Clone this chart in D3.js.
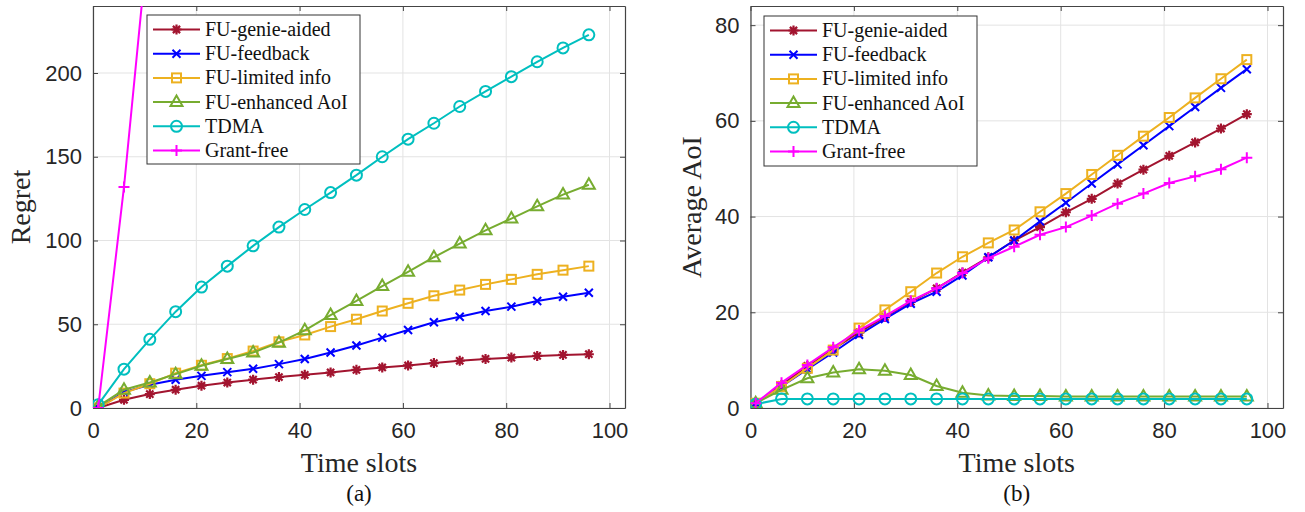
<!DOCTYPE html>
<html><head><meta charset="utf-8">
<script src="https://cdn.jsdelivr.net/npm/d3@7"></script>
<style>body{margin:0;background:#fff}svg{display:block}</style>
</head><body>
<svg id="chart" width="1305" height="512"></svg>
<script>
const slots = [1,6,11,16,21,26,31,36,41,46,51,56,61,66,71,76,81,86,91,96];
const seriesNames = ["FU-genie-aided","FU-feedback","FU-limited info","FU-enhanced AoI","TDMA","Grant-free"];
const seriesColors = ["#A2142F","#0000FF","#EDB120","#77AC30","#00BFBF","#FF00FF"];
const seriesMarkers = ["*","x","s","^","o","+"];

// (a) Regret
const regretGenie    = [0,4.9,8.3,10.9,13.3,15.2,16.9,18.5,19.8,21.2,22.8,24.2,25.4,26.8,28.2,29.3,30.1,31.1,31.7,32.1];
const regretFeedback = [0,9.5,13.9,16.9,19.2,21.4,23.4,26.2,29.3,33.1,37.3,42,46.6,51.2,54.5,57.9,60.5,63.9,66.4,68.8];
const regretLimited  = [0,8.9,14.5,20.8,25.5,29.5,34,39.5,43.6,48.6,53,57.9,62.5,67,70.4,73.8,76.8,79.8,82.3,84.7];
const regretEnhanced = [1,10.9,15.2,20.2,25.2,29.2,33.1,39,46.4,55.5,63.9,72.8,81.3,90,98.2,106.1,113.1,120.4,127.4,133.3];
const regretTDMA     = [2,23.2,41,57.5,72.2,84.7,96.8,108,118.5,128.6,139,150,160.5,170,180,189,197.8,206.7,215,222.8];
const regretGrant    = [0,132,290,445,600,752,905,1058,1210,1362,1515,1667,1820,1972,2125,2277,2430,2582,2735,2887];

// (b) Average AoI
const aoiGenie    = [1,4.8,8.8,12.3,15.8,19,22.2,25,28.3,31.5,35,37.8,40.9,43.7,46.9,49.8,52.7,55.5,58.4,61.4];
const aoiFeedback = [1,4.5,8.1,11.6,15.3,18.6,21.8,24.3,27.7,31.5,35,39,42.9,46.9,50.9,54.9,58.9,62.9,66.9,70.8];
const aoiLimited  = [1,4.5,8.3,12.1,16.7,20.5,24.3,28.2,31.6,34.5,37.2,41,44.8,48.8,52.8,56.8,60.7,64.8,68.8,72.8];
const aoiEnhanced = [1,3.8,6.2,7.4,8.1,7.8,6.9,4.6,3.2,2.6,2.5,2.5,2.4,2.4,2.4,2.4,2.4,2.4,2.4,2.4];
const aoiTDMA     = [0.8,1.9,1.9,1.9,1.9,1.9,1.9,1.9,1.9,1.9,1.9,1.9,1.9,1.9,1.9,1.9,1.9,1.9,1.9,1.9];
const aoiGrant    = [1,5.3,9,12.7,16.2,19.2,22.4,25,28.2,31.3,33.7,36.2,37.8,40.2,42.7,44.8,47,48.4,49.9,52.3];

const xTicks = [0,20,40,60,80,100];
const regretTicks = [0,50,100,150,200];
const aoiTicks = [0,20,40,60,80];

const svg = d3.select("#chart");
svg.append("rect").attr("width",1305).attr("height",512).attr("fill","#fff");

function marker(g, type, x, y, color) {
  const s = g.append("g").attr("transform",`translate(${x},${y})`)
    .attr("fill","none").attr("stroke",color).attr("stroke-width",2);
  if (type==="o") s.append("circle").attr("r",5.5);
  else if (type==="s") s.append("rect").attr("x",-4.5).attr("y",-4.5).attr("width",9).attr("height",9);
  else if (type==="^") s.append("path").attr("d","M0,-6.5L6,4L-6,4Z");
  else if (type==="+") s.append("path").attr("d","M-5.5,0H5.5M0,-5.5V5.5");
  else if (type==="x") s.append("path").attr("d","M-4,-4L4,4M-4,4L4,-4");
  else if (type==="*") s.append("path").attr("d","M-5,0H5M0,-5V5M-3.6,-3.6L3.6,3.6M-3.6,3.6L3.6,-3.6").attr("stroke-width",2.2);
}

function panel(id, x0, x1, yDomain, yTicks, data, yLabel, yLabelX, caption, legendBox) {
  const x = d3.scaleLinear().domain([0,103]).range([x0, x1]);
  const y = d3.scaleLinear().domain(yDomain).range([408, 6]);
  const g = svg.append("g");
  svg.append("clipPath").attr("id","clip"+id).append("rect")
    .attr("x",x0).attr("y",6).attr("width",x1-x0).attr("height",402);
  // grid
  g.append("g").selectAll("line").data(xTicks).join("line")
    .attr("x1",d=>x(d)).attr("x2",d=>x(d)).attr("y1",6).attr("y2",408)
    .attr("stroke","#e3e3e3").attr("stroke-width",1);
  g.append("g").selectAll("line").data(yTicks).join("line")
    .attr("y1",d=>y(d)).attr("y2",d=>y(d)).attr("x1",x0).attr("x2",x1)
    .attr("stroke","#e3e3e3").attr("stroke-width",1);
  // axes
  const axB = g.append("g").attr("transform","translate(0,408)")
    .call(d3.axisBottom(x).tickValues(xTicks).tickSizeInner(-5).tickSizeOuter(0).tickPadding(14));
  const axT = g.append("g").attr("transform","translate(0,6)")
    .call(d3.axisTop(x).tickValues(xTicks).tickSizeInner(-5).tickSizeOuter(0).tickFormat(""));
  const axL = g.append("g").attr("transform",`translate(${x0},0)`)
    .call(d3.axisLeft(y).tickValues(yTicks).tickSizeInner(-5).tickSizeOuter(0).tickPadding(11));
  const axR = g.append("g").attr("transform",`translate(${x1},0)`)
    .call(d3.axisRight(y).tickValues(yTicks).tickSizeInner(-5).tickSizeOuter(0).tickFormat(""));
  [axB,axT,axL,axR].forEach(a=>{
    a.select(".domain").attr("stroke","#444").attr("stroke-width",1.2);
    a.selectAll(".tick line").attr("stroke","#444").attr("stroke-width",1);
    a.selectAll("text").attr("font-family","'Liberation Sans', Arial, sans-serif")
      .attr("font-size",22).attr("fill","#262626");
  });
  // data
  const dg = g.append("g").attr("clip-path",`url(#clip${id})`);
  data.forEach((vals,i)=>{
    const pts = slots.map((s,k)=>[s, vals[k]]);
    dg.append("path").datum(pts)
      .attr("d", d3.line().x(d=>x(d[0])).y(d=>y(d[1])))
      .attr("fill","none").attr("stroke",seriesColors[i]).attr("stroke-width",2);
    pts.forEach(p=>{ if (p[1] <= yDomain[1]) marker(dg, seriesMarkers[i], x(p[0]), y(p[1]), seriesColors[i]); });
  });
  // labels
  svg.append("text").attr("x",(x0+x1)/2).attr("y",472).attr("text-anchor","middle")
    .attr("font-family","'Liberation Serif', 'Times New Roman', serif").attr("font-size",28).attr("fill","#262626")
    .text("Time slots");
  svg.append("text").attr("transform",`translate(${yLabelX},207) rotate(-90)`).attr("text-anchor","middle")
    .attr("font-family","'Liberation Serif', 'Times New Roman', serif").attr("font-size",28).attr("fill","#262626")
    .text(yLabel);
  svg.append("text").attr("x",(x0+x1)/2).attr("y",501).attr("text-anchor","middle")
    .attr("font-family","'Liberation Serif', 'Times New Roman', serif").attr("font-size",23).attr("fill","#111")
    .text(caption);
  // legend
  const [lx, ly, lw, lh] = legendBox;
  const lg = svg.append("g");
  lg.append("rect").attr("x",lx).attr("y",ly).attr("width",lw).attr("height",lh)
    .attr("fill","#fff").attr("stroke","#333").attr("stroke-width",1);
  seriesNames.forEach((n,i)=>{
    const yy = ly + 14.5 + i*24.2;
    lg.append("line").attr("x1",lx+6).attr("x2",lx+53).attr("y1",yy).attr("y2",yy)
      .attr("stroke",seriesColors[i]).attr("stroke-width",2);
    marker(lg, seriesMarkers[i], lx+29.5, yy, seriesColors[i]);
    lg.append("text").attr("x",lx+58).attr("y",yy+6.5)
      .attr("font-family","'Liberation Serif', 'Times New Roman', serif").attr("font-size",20).attr("fill","#111")
      .text(n);
  });
}

panel("a", 93, 625, [0,240], regretTicks,
  [regretGenie, regretFeedback, regretLimited, regretEnhanced, regretTDMA, regretGrant],
  "Regret", 30, "(a)", [147, 15, 213, 149]);
panel("b", 750.5, 1283, [0,84], aoiTicks,
  [aoiGenie, aoiFeedback, aoiLimited, aoiEnhanced, aoiTDMA, aoiGrant],
  "Average AoI", 701, "(b)", [764, 16, 213, 150]);
</script>
</body></html>
